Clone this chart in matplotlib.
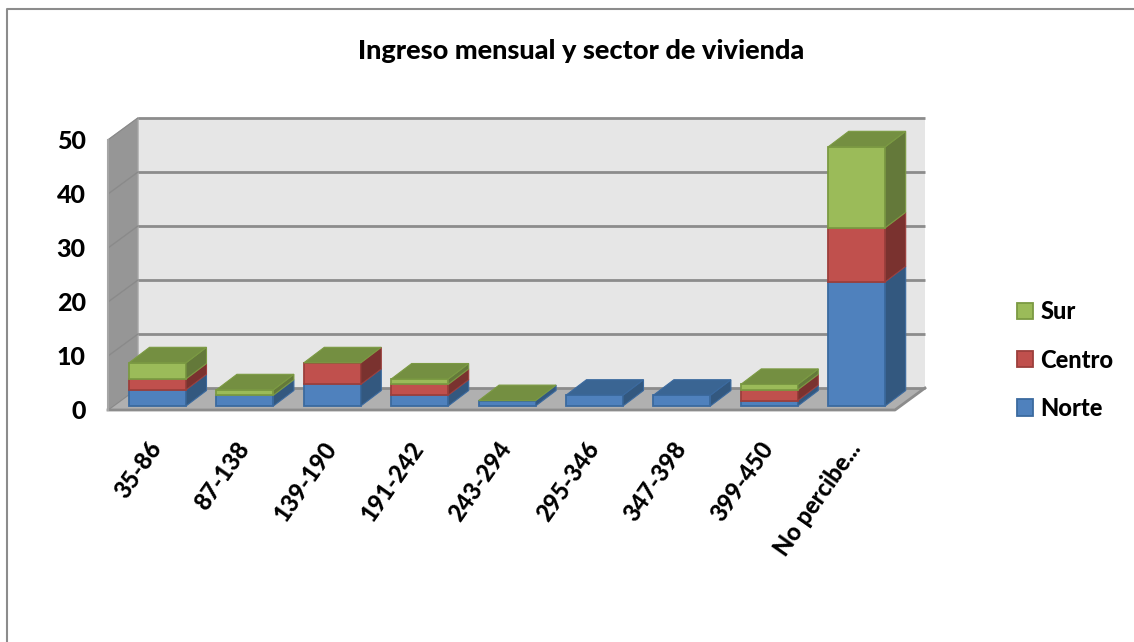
import matplotlib
matplotlib.use("Agg")
import matplotlib.pyplot as plt
from matplotlib.patches import Polygon, Patch
from matplotlib.lines import Line2D
from matplotlib.transforms import ScaledTranslation

categories = ["35-86", "87-138", "139-190", "191-242", "243-294", "295-346", "347-398", "399-450", "No percibe..."]
norte = [3, 2, 4, 2, 1, 2, 2, 1, 23]
centro = [2, 0, 4, 2, 0, 0, 0, 2, 10]
sur = [3, 1, 0, 1, 0, 0, 0, 1, 15]
top_series = ["Sur", "Sur", "Sur", "Sur", "Sur", "Norte", "Norte", "Sur", "Sur"]
y_ticks = [0, 10, 20, 30, 40, 50]
title = "Ingreso mensual y sector de vivienda"

W, H = 1134, 642
plt.rcParams["font.family"] = ["Lato", "DejaVu Sans"]
BOLD = 900

styles = {
    "Norte": dict(front="#4F81BD", side="#33587F", top="#3A6593", edge="#3B6A9F"),
    "Centro": dict(front="#C0504D", side="#7A322F", top="#8F3C3A", edge="#9C3F3C"),
    "Sur": dict(front="#9BBB59", side="#64793A", top="#748F41", edge="#7B9A42"),
}
series = [("Norte", norte), ("Centro", centro), ("Sur", sur)]

fig = plt.figure(figsize=(W / 100, H / 100), dpi=100, facecolor="white")

# pixel geometry of the plot box
L, R, B, T = 108, 925, 410, 118
PX_X = 87.4      # px per category
PX_Y = 5.4       # px per value unit
ax = fig.add_axes([L / W, 1 - B / H, (R - L) / W, (B - T) / H])
ax.set_xlim((L - 157.5) / PX_X, (R - 157.5) / PX_X)
ax.set_ylim(0, (B - T) / PX_Y)
ax.patch.set_visible(False)

wall_dx, wall_dy = 30 / PX_X, 22 / PX_Y
bar_dx, bar_dy = 20.5 / PX_X, 15.5 / PX_Y
bar_w = 57 / PX_X
bar_lift = 4 / PX_Y
x0, x1 = ax.get_xlim()
ymax = y_ticks[-1]

def poly(pts, fc, ec="none", lw=0.0, z=1):
    ax.add_patch(Polygon(pts, closed=True, facecolor=fc, edgecolor=ec, linewidth=lw, zorder=z, clip_on=False))

# back wall, side wall, floor
poly([(x0 + wall_dx, wall_dy), (x1, wall_dy), (x1, ymax + wall_dy), (x0 + wall_dx, ymax + wall_dy)], "#E6E6E6")
poly([(x0, 0), (x0 + wall_dx, wall_dy), (x0 + wall_dx, ymax + wall_dy), (x0, ymax)], "#969696", "#A6A6A6", 1.0)
poly([(x0, 0), (x1 - wall_dx, 0), (x1, wall_dy), (x0 + wall_dx, wall_dy)], "#B0B0B0")
for v in y_ticks:
    ax.plot([x0 + wall_dx, x1], [v + wall_dy] * 2, color="#8C8C8C", lw=2.0, zorder=2, clip_on=False, solid_capstyle="butt")
    ax.plot([x0, x0 + wall_dx], [v, v + wall_dy], color="#8A8A8A", lw=1.0, zorder=2, clip_on=False)
ax.plot([x0, x1 - wall_dx, x1], [0, 0, wall_dy], color="#8C8C8C", lw=2.0, zorder=2, clip_on=False)
ax.plot([x0, x0], [0, ymax], color="#A6A6A6", lw=1.5, zorder=2, clip_on=False)

# stacked 3D-look bars
z = 3
for i in range(len(categories)):
    left, right = i - bar_w / 2, i + bar_w / 2
    base = bar_lift
    for name, vals in series:
        v = vals[i]
        st = styles[name]
        if v > 0:
            poly([(left, base), (right, base), (right, base + v), (left, base + v)], st["front"], st["edge"], 1.3, z)
            poly([(right, base), (right + bar_dx, base + bar_dy), (right + bar_dx, base + v + bar_dy), (right, base + v)],
                 st["side"], st["edge"], 0.8, z)
            z += 1
        base += v
    st = styles[top_series[i]]
    poly([(left, base), (right, base), (right + bar_dx, base + bar_dy), (left + bar_dx, base + bar_dy)],
         st["top"], st["edge"], 0.8, z)
    z += 1

# axes text
for s in ax.spines.values():
    s.set_visible(False)
ax.set_yticks(y_ticks)
ax.set_xticks(range(len(categories)))
ax.set_xticklabels(categories, rotation=55, ha="right", rotation_mode="anchor", fontsize=17, fontweight=BOLD)
ax.set_yticklabels([str(v) for v in y_ticks], fontsize=18, fontweight=BOLD)
ax.tick_params(axis="x", length=0, pad=14)
ax.tick_params(axis="y", length=0, pad=16)
shift_x = ScaledTranslation(-10 / 100, -8 / 100, fig.dpi_scale_trans)
shift_y = ScaledTranslation(0, 0.5 / 100, fig.dpi_scale_trans)
for lab in ax.get_xticklabels():
    lab.set_transform(lab.get_transform() + shift_x)
for lab in ax.get_yticklabels():
    lab.set_transform(lab.get_transform() + shift_y)

fig.text(581.5 / W, 1 - 51 / H, title, ha="center", va="center", fontsize=19.5, fontweight=BOLD, color="black")

handles = [Patch(facecolor=styles[n]["front"], edgecolor=styles[n]["edge"], linewidth=1.3) for n in ("Sur", "Centro", "Norte")]
fig.legend(handles, ["Sur", "Centro", "Norte"], loc="center left", bbox_to_anchor=(1017 / W, 1 - 360 / H),
           frameon=False, handlelength=0.68, handleheight=0.68, handletextpad=0.3, labelspacing=1.07,
           borderpad=0, borderaxespad=0, prop=dict(size=17, weight=BOLD, family=["Lato", "DejaVu Sans"]))

# chart frame: only the left and top edges are visible
fig.add_artist(Line2D([7 / W, 7 / W, 1], [0, 1 - 9 / H, 1 - 9 / H], transform=fig.transFigure,
                      color="#8C8C8C", linewidth=1.5))

fig.savefig("out.png", dpi=100)
